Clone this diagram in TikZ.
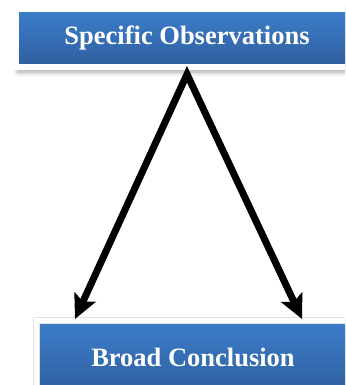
\documentclass[tikz,border=0pt]{standalone}
\usepackage{fontspec}
\setmainfont{Liberation Serif}
\usetikzlibrary{arrows.meta,shadows.blur}

\definecolor{boxtop}{RGB}{61,126,203}
\definecolor{boxbot}{RGB}{46,94,158}

\tikzset{
  stepbox/.style={rectangle, draw=black!12, line width=0.5pt, double=white, double distance=5.5pt,
    top color=boxtop, bottom color=boxbot,
    text=white, font=\fontsize{26.5}{30}\selectfont\bfseries,
    blur shadow={shadow xshift=2pt, shadow yshift=-5pt, shadow blur radius=5pt, shadow opacity=35}},
  bigarrow/.style={line width=7pt, line join=miter,
    {Stealth[length=24pt,width=23pt,inset=5pt]}-{Stealth[length=24pt,width=23pt,inset=5pt]}}
}

\begin{document}
\begin{tikzpicture}[x=1pt,y=-1pt]
\useasboundingbox (0,0) rectangle (345,385);
\clip (0,0) rectangle (345,385);
\path (187,38) node[stepbox,minimum width=342pt,minimum height=58pt] (obs) {Specific Observations};
\path (193,357) node[stepbox,minimum width=313pt,minimum height=73pt] (concl) {Broad Conclusion};
% tips of the two arrows
\coordinate (tipl) at (75,319);
\coordinate (tipr) at (302,319);
\draw[bigarrow] (tipl) -- ([yshift=-7pt]obs.south) -- (tipr);
\end{tikzpicture}
\end{document}
